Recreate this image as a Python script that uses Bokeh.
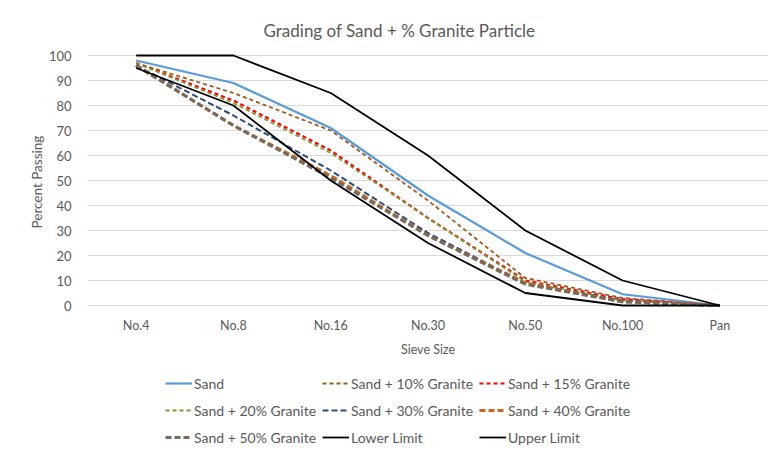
from bokeh.plotting import figure
from bokeh.models import (Range1d, FactorRange, Legend, LegendItem, FixedTicker,
                          CategoricalAxis, Title)
from bokeh.embed import file_html
from bokeh.resources import INLINE

sieves = ["No.4", "No.8", "No.16", "No.30", "No.50", "No.100", "Pan"]

sand = [98, 89, 71, 44, 21, 4.5, 0]
sand10 = [97, 85, 70, 42, 11, 3, 0]
sand15 = [97, 82, 62, 35, 10, 2.5, 0]
sand20 = [97, 81, 61, 35, 9.5, 2, 0]
sand30 = [96, 76, 54, 29, 9, 2, 0]
sand40 = [96, 72, 52, 28, 9, 1.5, 0]
sand50 = [96, 72, 51, 28, 8.5, 1.5, 0]
lower = [95, 80, 50, 25, 5, 0, 0]
upper = [100, 100, 85, 60, 30, 10, 0]

series = [
    ("Sand", sand, "#5B9BD5", None, 2.2),
    ("Sand + 10% Granite", sand10, "#9E5A1C", "4 3", 1.8),
    ("Sand + 15% Granite", sand15, "#FF0000", "4 3", 2.2),
    ("Sand + 20% Granite", sand20, "#7A9A3A", "4 3", 1.8),
    ("Sand + 30% Granite", sand30, "#2F4B7C", "6 3", 2.0),
    ("Sand + 40% Granite", sand40, "#C8661E", "6 3", 3.0),
    ("Sand + 50% Granite", sand50, "#7A6A5E", "6 3", 3.0),
    ("Lower Limit", lower, "#000000", None, 1.8),
    ("Upper Limit", upper, "#000000", None, 1.8),
]

FONT = "Lato"
GRAY = "#595959"

p = figure(x_range=FactorRange(*sieves), y_range=Range1d(-58.8, 101.2),
           width=768, height=452, output_backend="svg", toolbar_location=None,
           x_axis_location=None)
p.min_border_left = 87
p.min_border_right = 0
p.min_border_top = 52
p.min_border_bottom = 0

p.title.text = "Grading of Sand + % Granite Particle"
p.title.align = "left"
p.title.offset = 176
p.title.standoff = 24
p.title.text_font = FONT
p.title.text_font_size = "17px"
p.title.text_font_style = "normal"
p.title.text_color = GRAY

p.outline_line_color = None
p.xgrid.grid_line_color = None
p.ygrid.grid_line_color = "#D9D9D9"
p.ygrid.grid_line_width = 1

p.yaxis.ticker = FixedTicker(ticks=list(range(0, 101, 10)))
p.yaxis.axis_line_color = None
p.yaxis.major_tick_line_color = None
p.yaxis.minor_tick_line_color = None
p.yaxis.major_label_text_font = FONT
p.yaxis.major_label_text_font_size = "13px"
p.yaxis.major_label_text_color = GRAY
p.yaxis.major_label_standoff = 10

ytitle = Title(text="Percent Passing", align="left", offset=224,
               text_font=FONT, text_font_size="13.5px",
               text_font_style="normal", text_color=GRAY, standoff=2)
p.add_layout(ytitle, "left")

xaxis = CategoricalAxis(fixed_location=0)
xaxis.axis_line_color = None
xaxis.major_tick_line_color = None
xaxis.minor_tick_line_color = None
xaxis.major_label_text_font = FONT
xaxis.major_label_text_font_size = "12.5px"
xaxis.major_label_text_color = GRAY
xaxis.major_label_standoff = 6
xaxis.axis_label = "Sieve Size"
xaxis.axis_label_text_font = FONT
xaxis.axis_label_text_font_size = "12.5px"
xaxis.axis_label_text_font_style = "normal"
xaxis.axis_label_text_color = GRAY
xaxis.axis_label_standoff = 6
p.add_layout(xaxis, "below")

items = []
for name, vals, color, dash, w in series:
    kw = dict(line_color=color, line_width=w)
    if dash:
        kw["line_dash"] = dash
    r = p.line(sieves, vals, **kw)
    items.append(LegendItem(label=name, renderers=[r]))

row_bottoms = [59, 32, 5]
for row in range(3):
    lg = Legend(items=items[row * 3:(row + 1) * 3], orientation="horizontal",
                location=(78, row_bottoms[row]), label_text_font=FONT,
                label_text_font_size="14px", label_text_color=GRAY,
                glyph_width=27, glyph_height=20, label_height=20,
                label_width=124, label_standoff=2, spacing=4,
                padding=3, margin=0,
                border_line_color=None, background_fill_alpha=0)
    p.add_layout(lg, "center")

open("out.html", "w").write(file_html(p, INLINE))
